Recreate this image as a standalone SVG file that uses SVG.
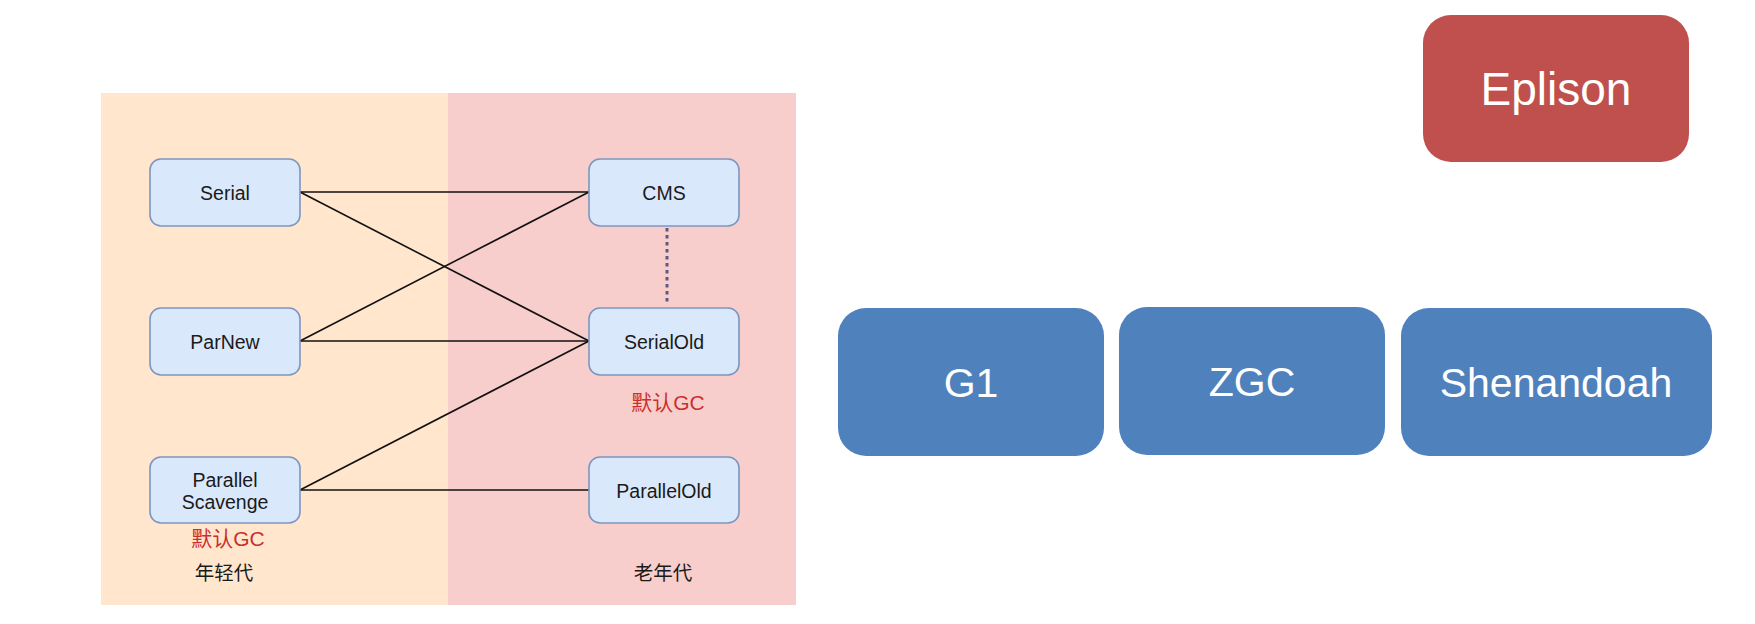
<svg xmlns="http://www.w3.org/2000/svg" width="1755" height="624" viewBox="0 0 1755 624">
<style>
.node rect{fill:#dae8fc;stroke:#7d96bf;stroke-width:1.6}
.node text{font-family:"Liberation Sans",Arial,sans-serif;font-size:19.5px;fill:#1a1a1a;text-anchor:middle}
.big rect{fill:#4f81bd}
.big text{font-family:"Liberation Sans",Arial,sans-serif;font-size:41px;fill:#ffffff;text-anchor:middle}
.red text{font-family:"Liberation Sans","Noto Sans CJK SC",sans-serif;font-size:21px;fill:#cc2e2e;text-anchor:middle}
.lbl{font-family:"Liberation Sans","Noto Sans CJK SC",sans-serif;font-size:19.5px;fill:#1a1a1a;text-anchor:middle}
.edges line{stroke:#111111;stroke-width:1.6}
.edges line.dot{stroke:#5a5d80;stroke-width:3;stroke-dasharray:3.5 3.5}
</style>
<rect x="0" y="0" width="1755" height="624" fill="#ffffff"/>
<g id="young-panel">
<rect x="101" y="93" width="347" height="512" fill="#ffe6cc"/>
<text class="lbl" x="224" y="580">年轻代</text>
</g>
<g id="old-panel">
<rect x="448" y="93" width="348" height="512" fill="#f8cecc"/>
<text class="lbl" x="663" y="580">老年代</text>
</g>
<g class="edges" id="connectors">
<line x1="300" y1="192" x2="589" y2="192"/>
<line x1="300" y1="192" x2="589" y2="341"/>
<line x1="300" y1="341" x2="589" y2="192"/>
<line x1="300" y1="341" x2="589" y2="341"/>
<line x1="300" y1="490" x2="589" y2="341"/>
<line x1="300" y1="490" x2="589" y2="490"/>
<line class="dot" x1="667" y1="228" x2="667" y2="304"/>
</g>
<g id="serial" class="node"><rect x="150" y="159" width="150" height="67" rx="11"/><text x="225" y="200">Serial</text></g>
<g id="parnew" class="node"><rect x="150" y="308" width="150" height="67" rx="11"/><text x="225" y="349">ParNew</text></g>
<g id="parallel-scavenge" class="node"><rect x="150" y="457" width="150" height="66" rx="11"/><text x="225" y="487">Parallel</text><text x="225" y="509">Scavenge</text></g>
<g id="cms" class="node"><rect x="589" y="159" width="150" height="67" rx="11"/><text x="664" y="200">CMS</text></g>
<g id="serialold" class="node"><rect x="589" y="308" width="150" height="67" rx="11"/><text x="664" y="349">SerialOld</text></g>
<g id="parallelold" class="node"><rect x="589" y="457" width="150" height="66" rx="11"/><text x="664" y="498">ParallelOld</text></g>
<g id="default-gc-old" class="red"><text x="668" y="410">默认GC</text></g>
<g id="default-gc-young" class="red"><text x="228" y="546">默认GC</text></g>
<g id="g1" class="big"><rect x="838" y="308" width="266" height="148" rx="28"/><text x="971" y="397">G1</text></g>
<g id="zgc" class="big"><rect x="1119" y="307" width="266" height="148" rx="28"/><text x="1252" y="396">ZGC</text></g>
<g id="shenandoah" class="big"><rect x="1401" y="308" width="311" height="148" rx="28"/><text x="1556" y="397">Shenandoah</text></g>
<g id="eplison"><rect x="1423" y="15" width="266" height="147" rx="28" fill="#c0504d"/><text x="1556" y="105" font-family="'Liberation Sans',Arial,sans-serif" font-size="46" fill="#ffffff" text-anchor="middle">Eplison</text></g>
</svg>
